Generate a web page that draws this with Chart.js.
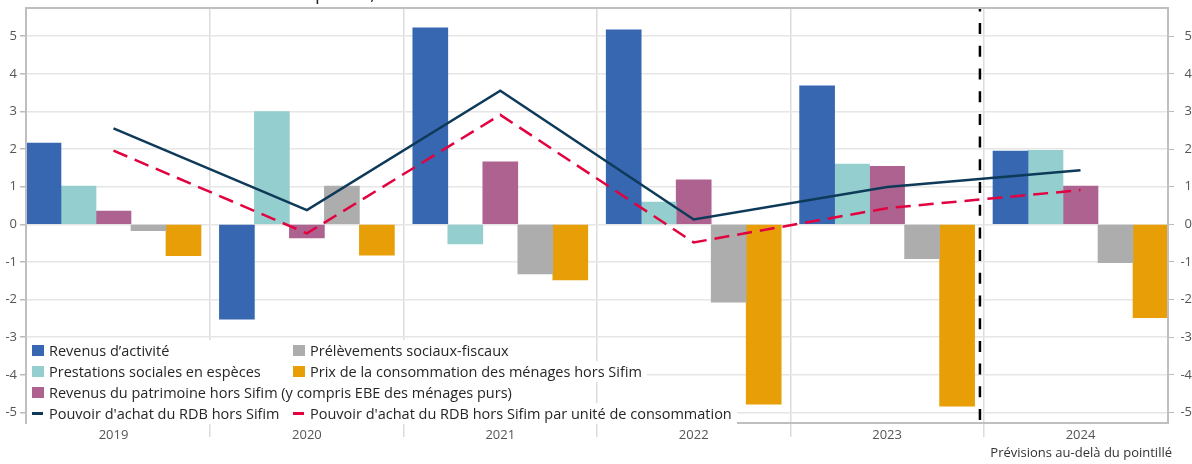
<!DOCTYPE html>
<html lang="fr">
<head>
<meta charset="utf-8">
<title>Pouvoir d'achat du RDB</title>
<script src="https://cdn.jsdelivr.net/npm/chart.js@4/dist/chart.umd.min.js"></script>
<style>
  body { margin: 0; background: #fff; font-family: 'Open Sans', sans-serif; }
  #wrap { position: relative; width: 1192px; height: 464px; overflow: hidden; }
  #title { position: absolute; top: -20px; left: 0; width: 1192px; height: 26px; font-size: 19px; line-height: 26px; color: #222; white-space: nowrap; }
  #title .a { position: absolute; right: 877px; }
  #title .b { position: absolute; left: 315px; }
  #legend { position: absolute; left: 27px; top: 340px; font-size: 14.5px; color: #262626; }
  .row { display: flex; align-items: center; height: 21px; line-height: 21px; background: #fff; width: fit-content; padding-right: 5px; white-space: nowrap; }
  .item { display: flex; align-items: center; }
  .item.first { width: 261px; }
  .sw { width: 12px; height: 11px; margin-left: 5px; margin-right: 5px; flex: none; }
  .sw.line { height: 3px; width: 11px; margin-right: 6px; }
  #note { position: absolute; right: 20px; top: 443px; font-size: 13px; line-height: 18px; color: #333; white-space: nowrap; }
</style>
</head>
<body>
<div id="wrap">
  <canvas id="chart" width="1192" height="464"></canvas>
  <div id="title"><span class="a">Contributions à la croissance du RDB en </span><span class="b">points, %</span></div>
  <div id="legend"></div>
  <div id="note">Prévisions au-delà du pointillé</div>
</div>
<script>
// ----- Data -----
const years = ['2019', '2020', '2021', '2022', '2023', '2024'];

const revenusActivite     = [2.16, -2.52, 5.22, 5.17, 3.68, 1.95];
const prestationsSociales = [1.02, 3.00, -0.52, 0.59, 1.60, 1.97];
const revenusPatrimoine   = [0.35, -0.36, 1.66, 1.18, 1.54, 1.02];
const prelevements        = [-0.17, 1.02, -1.32, -2.07, -0.91, -1.02];
const prixConso           = [-0.83, -0.82, -1.48, -4.78, -4.83, -2.48];

const pouvoirAchat   = [2.55, 0.38, 3.55, 0.13, 0.99, 1.44];
const pouvoirAchatUC = [1.96, -0.24, 2.91, -0.48, 0.43, 0.91];

// forecasts start between 2023 and 2024 (category index position)
const forecastFrom = 4.48;

const yMin = -5.28, yMax = 5.75;

const pts = arr => arr.map((v, i) => ({ x: i, y: v }));

Chart.defaults.font.family = "'Open Sans', sans-serif";

// ----- Plot frame -----
const framePlugin = {
  id: 'frame',
  afterDatasetsDraw(chart) {
    const { ctx, chartArea: a } = chart;
    ctx.save();
    ctx.strokeStyle = '#bfbfbf';
    ctx.lineWidth = 2;
    ctx.strokeRect(a.left, a.top, a.right - a.left, a.bottom - a.top);
    ctx.restore();
  }
};

const bar = (label, data, color) => ({
  type: 'bar', label, data: pts(data), backgroundColor: color,
  barThickness: 35, order: 2
});

const chart = new Chart(document.getElementById('chart'), {
  type: 'bar',
  data: {
    datasets: [
      bar('Revenus d’activité', revenusActivite, '#3767b1'),
      bar('Prestations sociales en espèces', prestationsSociales, '#95cece'),
      bar('Revenus du patrimoine hors Sifim (y compris EBE des ménages purs)', revenusPatrimoine, '#ae6290'),
      bar('Prélèvements sociaux-fiscaux', prelevements, '#aeadad'),
      bar('Prix de la consommation des ménages hors Sifim', prixConso, '#e89f07'),
      {
        type: 'line', label: "Pouvoir d'achat du RDB hors Sifim", data: pts(pouvoirAchat),
        borderColor: '#0e3a5a', backgroundColor: '#0e3a5a', borderWidth: 2.5,
        pointRadius: 0, tension: 0, order: 1
      },
      {
        type: 'line', label: "Pouvoir d'achat du RDB hors Sifim par unité de consommation", data: pts(pouvoirAchatUC),
        borderColor: '#e2023f', backgroundColor: '#e2023f', borderWidth: 2.5, borderDash: [15, 8],
        pointRadius: 0, tension: 0, order: 1
      },
      {
        type: 'line', label: 'forecast', data: [{ x: forecastFrom, y: yMin }, { x: forecastFrom, y: yMax }],
        borderColor: '#000', borderWidth: 2.5, borderDash: [11, 11.7], borderDashOffset: 19.7,
        pointRadius: 0, order: 0
      }
    ]
  },
  options: {
    responsive: false,
    animation: false,
    events: [],
    layout: { padding: { top: 8, left: 0, right: 0, bottom: 0 } },
    plugins: { legend: { display: false }, tooltip: { enabled: false } },
    scales: {
      x: {
        type: 'linear',
        min: -0.4524, max: 5.4524,
        offset: false,
        afterBuildTicks: s => {
          s.ticks = years.flatMap((_, i) => i < years.length - 1 ? [i, i + 0.5] : [i]).map(v => ({ value: v }));
        },
        afterFit: s => { s.height = 41; s.paddingLeft = 0; s.paddingRight = 0; },
        border: { display: false },
        grid: {
          offset: false,
          color: c => (c.tick && !Number.isInteger(c.tick.value)) ? '#dcdcdc' : 'rgba(0,0,0,0)',
          tickColor: c => (c.tick && !Number.isInteger(c.tick.value)) ? '#dcdcdc' : 'rgba(0,0,0,0)',
          lineWidth: 1.5,
          tickLength: 14
        },
        ticks: {
          autoSkip: false, maxRotation: 0, padding: -10,
          color: '#555', font: { size: 13 },
          callback: v => Number.isInteger(v) ? years[v] : ''
        }
      },
      y: {
        position: 'left',
        min: yMin, max: yMax,
        afterFit: s => { s.width = 26; s.paddingTop = 0; s.paddingBottom = 0; },
        border: { display: false },
        grid: { color: '#e6e6e6', lineWidth: 1.5, tickColor: '#bbb', tickLength: 6 },
        ticks: { stepSize: 1, includeBounds: false, padding: 3, color: '#555', font: { size: 13 } }
      },
      y2: {
        position: 'right',
        min: yMin, max: yMax,
        afterFit: s => { s.width = 24; s.paddingTop = 0; s.paddingBottom = 0; },
        border: { display: false },
        grid: { drawOnChartArea: false, tickColor: '#bbb', tickLength: 6 },
        ticks: { stepSize: 1, includeBounds: false, padding: 0, crossAlign: 'far', color: '#555', font: { size: 13 } }
      }
    }
  },
  plugins: [framePlugin]
});

// ----- Legend (HTML, two columns, laid out like the reference) -----
const legendRows = [[0, 3], [1, 4], [2], [5, 6]];
const legendEl = document.getElementById('legend');
legendRows.forEach(row => {
  const r = document.createElement('div');
  r.className = 'row';
  row.forEach((idx, k) => {
    const ds = chart.data.datasets[idx];
    const it = document.createElement('div');
    it.className = 'item' + (k === 0 && row.length > 1 ? ' first' : '');
    const sw = document.createElement('span');
    sw.className = 'sw' + (ds.type === 'line' ? ' line' : '');
    sw.style.background = ds.type === 'line' ? ds.borderColor : ds.backgroundColor;
    const tx = document.createElement('span');
    tx.textContent = ds.label;
    it.appendChild(sw);
    it.appendChild(tx);
    r.appendChild(it);
  });
  legendEl.appendChild(r);
});
</script>
</body>
</html>
